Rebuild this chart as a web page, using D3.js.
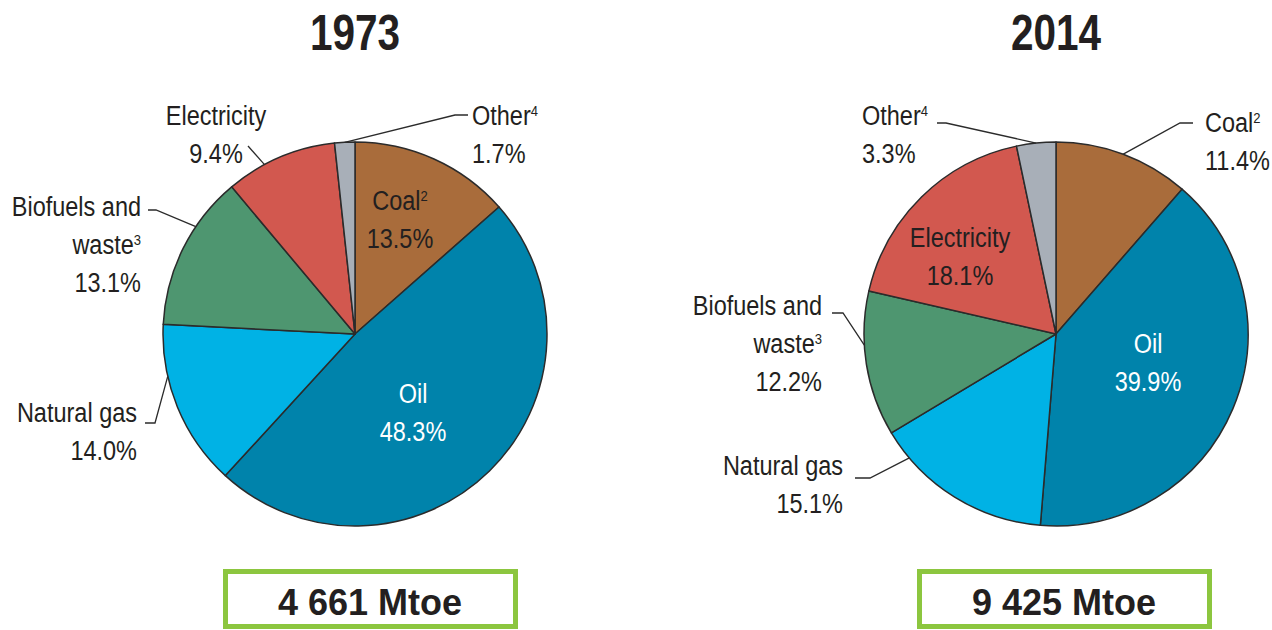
<!DOCTYPE html>
<html>
<head>
<meta charset="utf-8">
<script src="https://cdnjs.cloudflare.com/ajax/libs/d3/7.8.5/d3.min.js"></script>
<style>
  body { margin: 0; background: #fff; }
  svg text { font-family: "Liberation Sans", Arial, sans-serif; fill: #231f20; }
</style>
</head>
<body>
<div id="chart"></div>
<script>
// data
const sources = ["Coal", "Oil", "Natural gas", "Biofuels and waste", "Electricity", "Other"];
const share1973 = [13.5, 48.3, 14.0, 13.1, 9.4, 1.7];
const share2014 = [11.4, 39.9, 15.1, 12.2, 18.1, 3.3];
const years = ["1973", "2014"];
const totals = ["4 661 Mtoe", "9 425 Mtoe"];
// label text, with footnote marks
const labelLines = [
  [["Coal", "2"]],
  [["Oil", ""]],
  [["Natural gas", ""]],
  [["Biofuels and", ""], ["waste", "3"]],
  [["Electricity", ""]],
  [["Other", "4"]]
];
const colors = ["#a96c3b", "#0083ab", "#00b2e5", "#4e9670", "#d2584f", "#a8afb8"];

const W = 1272, H = 630, lineH = 38;
const narrow = 0.87;   // condensed look of the original type

// layout per pie: label position, leader points, where the leader meets the slice (t = fraction across slice)
const charts = [
  {
    year: years[0], total: totals[0], values: share1973, cx: 355, cy: 334, r: 192, box: [225.5, 571.5, 290, 55], tx: 370,
    labels: [
      { x: 400, y: 210, anchor: "middle" },
      { x: 413, y: 403, anchor: "middle", white: true },
      { x: 137, y: 422, anchor: "end", lead: [[145, 423], [155, 423]], t: 0.69 },
      { x: 141, y: 216, anchor: "end", lead: [[148, 210], [156, 210]], t: 0.66 },
      { x: 216, y: 125, anchor: "middle", lead: [[248, 146]], t: 0.35 },
      { x: 472, y: 125, anchor: "start", lead: [[468, 115], [455, 115]], t: 0.5 }
    ]
  },
  {
    year: years[1], total: totals[1], values: share2014, cx: 1056, cy: 334, r: 192, box: [919.5, 571.5, 290, 55], tx: 1064,
    labels: [
      { x: 1205, y: 132, anchor: "start", lead: [[1193, 123], [1180, 123]], t: 0.5 },
      { x: 1148, y: 353, anchor: "middle", white: true },
      { x: 843, y: 475, anchor: "end", lead: [[855, 478], [870, 478]], t: 0.83 },
      { x: 822, y: 315, anchor: "end", lead: [[832, 313], [843, 313]], t: 0.63 },
      { x: 960, y: 247, anchor: "middle" },
      { x: 862, y: 125, anchor: "start", lead: [[937, 123], [946, 123]], t: 0.5 }
    ]
  }
];

const svg = d3.select("#chart").append("svg")
  .attr("width", W)
  .attr("height", H);

const pie = d3.pie().sort(null).value(d => d);

charts.forEach(c => {
  const arcs = pie(c.values);
  const arc = d3.arc().innerRadius(0).outerRadius(c.r);

  // title
  svg.append("g")
    .attr("transform", "translate(" + c.cx + ",50) scale(0.81,1)")
    .append("text")
    .attr("text-anchor", "middle")
    .style("font-size", "50px")
    .style("font-weight", "bold")
    .text(c.year);

  const g = svg.append("g").attr("transform", "translate(" + c.cx + "," + c.cy + ")");
  g.selectAll("path.slice")
    .data(arcs)
    .enter().append("path")
    .attr("class", "slice")
    .attr("d", arc)
    .style("fill", (d, i) => colors[i])
    .style("stroke", "#2b2b2b")
    .style("stroke-width", "1.5px")
    .style("stroke-linejoin", "round");

  // leader lines
  arcs.forEach((d, i) => {
    const lb = c.labels[i];
    if (!lb.lead) return;
    const a = d.startAngle + (d.endAngle - d.startAngle) * lb.t;
    const px = c.cx + c.r * Math.sin(a), py = c.cy - c.r * Math.cos(a);
    const pts = lb.lead.concat([[px, py]]);
    svg.append("path")
      .attr("d", d3.line()(pts))
      .style("fill", "none")
      .style("stroke", "#2b2b2b")
      .style("stroke-width", "1.3px");
  });

  // labels
  arcs.forEach((d, i) => {
    const lb = c.labels[i];
    const lines = labelLines[i].concat([[d3.format(".1f")(d.data) + "%", ""]]);
    lines.forEach((ln, j) => {
      const t = svg.append("g")
        .attr("transform", "translate(" + lb.x + "," + (lb.y + j * lineH) + ") scale(" + narrow + ",1)")
        .append("text")
        .attr("text-anchor", lb.anchor)
        .style("font-size", "27px")
        .style("fill", lb.white ? "#fff" : "#231f20");
      t.append("tspan").text(ln[0]);
      if (ln[1]) {
        t.append("tspan")
          .attr("dy", -9)
          .style("font-size", "15px")
          .text(ln[1]);
      }
    });
  });

  // total box
  svg.append("rect")
    .attr("x", c.box[0])
    .attr("y", c.box[1])
    .attr("width", c.box[2])
    .attr("height", c.box[3])
    .style("fill", "#fff")
    .style("stroke", "#8cc63f")
    .style("stroke-width", 5);
  svg.append("text")
    .attr("x", c.tx)
    .attr("y", 615)
    .attr("text-anchor", "middle")
    .style("font-size", "36px")
    .style("font-weight", "bold")
    .text(c.total);
});
</script>
</body>
</html>
